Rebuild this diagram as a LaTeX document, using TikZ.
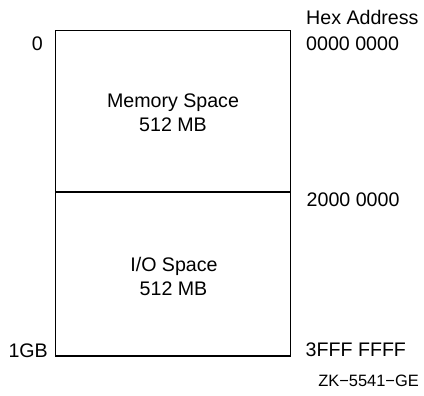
\documentclass[tikz,border=0pt]{standalone}
\usepackage{fontspec}
\setmainfont{Liberation Sans}
\begin{document}
\begin{tikzpicture}[x=1bp,y=-1bp,
  lbl/.style={inner sep=0pt,font=\fontsize{19.7}{23}\selectfont},
  small/.style={inner sep=0pt,font=\fontsize{16.5}{19}\selectfont},
  frame/.style={draw=black,line width=1.5bp}]
\useasboundingbox (0,0) rectangle (424,396);
\coordinate (tl) at (55.5,30.5);
\coordinate (br) at (290.5,356);
\coordinate (dl) at (55.5,192);
\coordinate (dr) at (290.5,192);
\draw[frame] (tl) rectangle (br);
\draw[frame] (dl) -- (dr);
\node[lbl,anchor=base west] (hex) at (306,24.5) {Hex Address};
\node[lbl,anchor=base west] (a0) at (306,50) {0000 0000};
\node[lbl,anchor=base east] (z0) at (43,50) {0};
\node[lbl,anchor=base west] (a2) at (306.5,206.5) {2000 0000};
\node[lbl,anchor=base west] (a3) at (305.5,356.7) {3FFF FFFF};
\node[lbl,anchor=base east] (g1) at (48,357) {1GB};
\node[lbl,anchor=base] (ms) at (173,107.5) {Memory Space};
\node[lbl,anchor=base] (ms2) at (173,131.5) {512 MB};
\node[lbl,anchor=base] (io) at (174,271) {I/O Space};
\node[lbl,anchor=base] (io2) at (173.5,295) {512 MB};
\node[small,anchor=base east] (zk) at (419,386.7) {ZK−5541−GE};
\end{tikzpicture}
\end{document}
